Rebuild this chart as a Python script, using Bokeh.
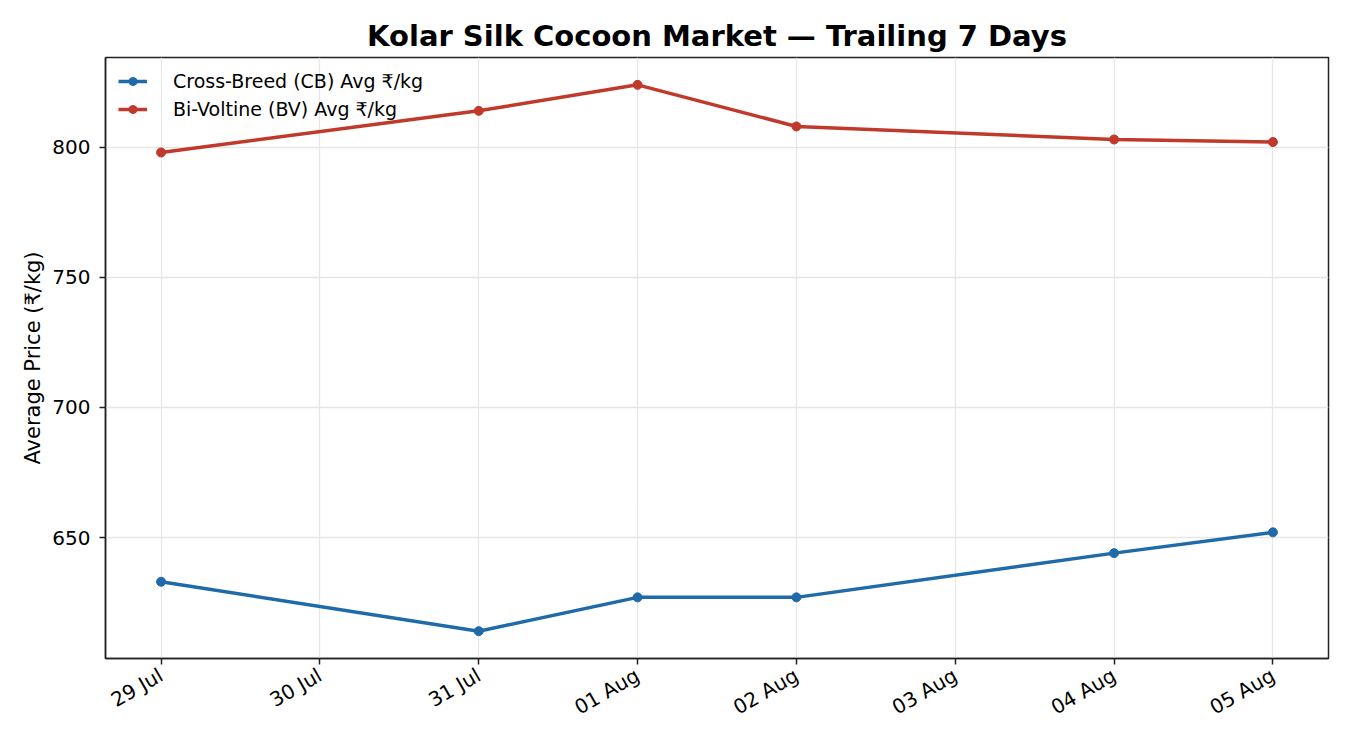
from datetime import datetime
import math
from bokeh.plotting import figure
from bokeh.models import Range1d, FixedTicker, DatetimeTickFormatter, Legend, LegendItem
from bokeh.embed import file_html
from bokeh.resources import INLINE

dates = ["2024-07-29", "2024-07-31", "2024-08-01", "2024-08-02", "2024-08-04", "2024-08-05"]
cb_values = [633, 614, 627, 627, 644, 652]
bv_values = [798, 814, 824, 808, 803, 802]
tick_dates = ["2024-07-29", "2024-07-30", "2024-07-31", "2024-08-01", "2024-08-02", "2024-08-03", "2024-08-04", "2024-08-05"]
y_ticks = [650, 700, 750, 800]

x = [datetime.strptime(d, "%Y-%m-%d") for d in dates]
tx = [datetime.strptime(d, "%Y-%m-%d") for d in tick_dates]
epoch = datetime(1970, 1, 1)
tick_ms = [(t - epoch).total_seconds() * 1000 for t in tx]

span = x[-1] - x[0]
pad = span * 0.05
all_vals = cb_values + bv_values
ypad = (max(all_vals) - min(all_vals)) * 0.05

p = figure(width=1334, height=734, output_backend="svg", toolbar_location=None,
           x_axis_type="datetime",
           x_range=Range1d(x[0] - pad, x[-1] + pad),
           y_range=Range1d(min(all_vals) - ypad, max(all_vals) + ypad),
           min_border_left=105, min_border_right=6, min_border_top=57, min_border_bottom=76)

p.title.text = "Kolar Silk Cocoon Market — Trailing 7 Days"
p.title.align = "center"
p.title.text_font = "DejaVu Sans"
p.title.text_font_size = "29px"
p.title.text_font_style = "bold"
p.title.text_color = "black"

blue = "#1f6aa8"
red = "#c0392b"

l1 = p.line(x, cb_values, line_color=blue, line_width=3.5)
s1 = p.scatter(x, cb_values, size=9, fill_color=blue, line_color=blue)
l2 = p.line(x, bv_values, line_color=red, line_width=3.5)
s2 = p.scatter(x, bv_values, size=9, fill_color=red, line_color=red)

legend = Legend(items=[LegendItem(label="Cross-Breed (CB) Avg ₹/kg", renderers=[l1, s1]),
                       LegendItem(label="Bi-Voltine (BV) Avg ₹/kg", renderers=[l2, s2])],
                location="top_left")
legend.border_line_color = None
legend.background_fill_alpha = 0
legend.label_text_font = "DejaVu Sans"
legend.label_text_font_size = "19px"
legend.label_text_color = "black"
legend.glyph_width = 29
legend.glyph_height = 20
legend.label_height = 20
legend.label_standoff = 26
legend.spacing = 6
legend.padding = 8
legend.margin = 13
p.add_layout(legend, "center")

p.xaxis.ticker = FixedTicker(ticks=tick_ms)
p.xaxis.formatter = DatetimeTickFormatter(days="%d %b", months="%d %b", hours="%d %b")
p.xaxis.major_label_orientation = math.pi / 6
p.yaxis.ticker = FixedTicker(ticks=y_ticks)
p.yaxis.axis_label = "Average Price (₹/kg)"
p.yaxis.axis_label_text_font = "DejaVu Sans"
p.yaxis.axis_label_text_font_size = "21px"
p.yaxis.axis_label_text_font_style = "normal"
p.yaxis.axis_label_text_color = "black"
p.yaxis.axis_label_standoff = 4

for ax in (p.xaxis, p.yaxis):
    ax.major_label_text_font = "DejaVu Sans"
    ax.major_label_text_font_size = "20px"
    ax.major_label_text_color = "black"
    ax.axis_line_color = "#222222"
    ax.major_tick_line_color = "#222222"
    ax.major_tick_out = 6
    ax.major_tick_in = 0
    ax.major_tick_line_width = 1.5
    ax.minor_tick_line_color = None
    ax.axis_line_width = 1.5
p.xaxis.major_label_standoff = 9
p.yaxis.major_label_standoff = 9

p.outline_line_color = "#222222"
p.outline_line_width = 1.5
p.xgrid.ticker = FixedTicker(ticks=tick_ms)
p.grid.grid_line_color = "#e6e6e6"
p.grid.grid_line_width = 1.3
p.background_fill_color = "white"

open("out.html", "w").write(file_html(p, INLINE))
